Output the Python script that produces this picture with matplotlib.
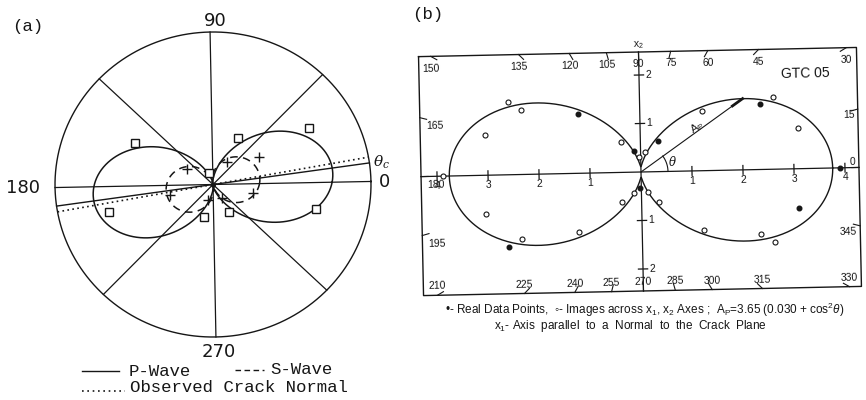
import numpy as np
import matplotlib
matplotlib.use("Agg")
from matplotlib import pyplot as plt
from matplotlib.lines import Line2D
from matplotlib.transforms import Affine2D

plt.rcParams['mathtext.fontset'] = 'custom'
plt.rcParams['mathtext.rm'] = 'Liberation Sans'
plt.rcParams['mathtext.it'] = 'Liberation Sans:italic'

INK = '#161616'
W, H = 866, 400

# ---------------- panel (a): polar sketch, radius of outer circle = 1
spoke_deg = [0, 45, 90, 135]
p_axis_deg = 7.0          # fitted P-wave axis (solid)
crack_normal_deg = 9.2    # observed crack normal (dotted)
p_lobe_deg = 6.0
p_lobe_size = 0.74
p_lobe_c = 0.03
s_lobe_deg = 11.0
s_lobe_size = 0.30

p_sq_x = [-0.489, -0.023, 0.164, 0.615, -0.661, -0.061, 0.098, 0.649]
p_sq_y = [0.285, 0.079, 0.300, 0.356, -0.165, -0.210, -0.180, -0.176]
s_plus_x = [-0.163, 0.092, 0.294, -0.273, 0.252, -0.034, 0.055]
s_plus_y = [0.108, 0.149, 0.172, -0.061, -0.064, -0.104, -0.087]

# ---------------- panel (b): GTC 05, A_P = 3.65 (0.030 + cos^2 theta)
amp_p = 3.65
c_p = 0.030
real_x = [-1.22, -0.12, 0.35, 2.36, 3.90, 3.08, -2.62, -0.02]
real_y = [1.23, 0.43, 0.64, 1.35, 0.00, -0.82, -1.49, -0.32]
image_x = [-2.58, -2.33, -3.05, -0.38, -0.03, 0.09, 1.23, 2.62, 3.09, -3.88,
           -3.06, -0.38, -0.15, 0.12, 0.35, -2.36, -1.24, 1.22, 2.32, 2.60]
image_y = [1.51, 1.34, 0.83, 0.63, 0.30, 0.42, 1.23, 1.49, 0.83, 0.01,
           -0.80, -0.61, -0.43, -0.42, -0.63, -1.34, -1.21, -1.23, -1.33, -1.50]
x1_ticks = [-4, -3, -2, -1, 1, 2, 3, 4]
x2_ticks = [-2, -1, 1, 2]
protractor_deg = list(range(0, 360, 15))
ap_deg = 36


def px(x, y):
    return x / W, 1 - y / H


def tilted(ax, deg):
    ox, oy = ax.transData.transform((0, 0))
    return ax.transData + Affine2D().rotate_deg_around(ox, oy, deg)


fig = plt.figure(figsize=(W / 100, H / 100), dpi=100)
fig.patch.set_facecolor('white')

# ================= (a)
ax_a = fig.add_axes([55 / W, (H - 337) / H, 316 / W, 305 / H])
ax_a.set_xlim(-1, 1)
ax_a.set_ylim(-1, 1)
ax_a.axis('off')
tr_a = tilted(ax_a, 1.1)

t = np.linspace(0, 2 * np.pi, 721)
kw = dict(color=INK, transform=tr_a, clip_on=False)
ax_a.plot(np.cos(t), np.sin(t), lw=1.0, **kw)
for d in spoke_deg:
    a = np.radians(d)
    ax_a.plot([-np.cos(a), np.cos(a)], [-np.sin(a), np.sin(a)], lw=0.9, **kw)

a = np.radians(p_axis_deg)
ax_a.plot([-np.cos(a), np.cos(a)], [-np.sin(a), np.sin(a)], lw=1.0, **kw)
a = np.radians(crack_normal_deg)
ax_a.plot([-np.cos(a), np.cos(a)], [-np.sin(a), np.sin(a)], lw=1.2,
          ls=(0, (1, 2)), **kw)

r = p_lobe_size * (p_lobe_c + np.cos(t - np.radians(p_lobe_deg)) ** 2)
ax_a.plot(r * np.cos(t), r * np.sin(t), lw=1.1, **kw)
r = s_lobe_size * np.abs(np.cos(t - np.radians(s_lobe_deg)))
ax_a.plot(r * np.cos(t), r * np.sin(t), lw=1.1, ls=(0, (5, 3.5)), **kw)

ax_a.plot(p_sq_x, p_sq_y, 's', ms=5.5, mfc='white', mec=INK, mew=1.0,
          transform=tr_a, clip_on=False, zorder=4)
ax_a.plot(s_plus_x, s_plus_y, '+', ms=6.5, mec=INK, mew=1.0,
          transform=tr_a, clip_on=False, zorder=4)
ax_a.plot([0], [0], 'o', ms=2.5, color=INK, transform=tr_a, clip_on=False)

num = dict(color=INK, fontsize=13, family='DejaVu Sans', ha='center', va='center')
fig.text(*px(215, 21), '90', **num)
fig.text(*px(219, 352), '270', **num)
fig.text(*px(23, 188), '180', **num)
fig.text(*px(385, 182), '0', **num)
fig.text(*px(381, 162), r'$\theta_c$', color=INK, fontsize=11,
         math_fontfamily='dejavuserif', ha='center', va='center')

mono = dict(color=INK, fontsize=12.5, family='Liberation Mono', va='center')
fig.text(*px(12, 27), '(a)', **mono)
fig.text(*px(412, 14), '(b)', **mono)

fig.add_artist(Line2D([82 / W, 119 / W], [1 - 371 / H] * 2, color=INK, lw=1.0))
fig.text(*px(129, 371), 'P-Wave', **mono)
fig.add_artist(Line2D([235 / W, 264 / W], [1 - 370 / H] * 2, color=INK, lw=1.0,
                      ls=(0, (4, 2.5))))
fig.text(*px(270, 370), 'S-Wave', **mono)
fig.add_artist(Line2D([82 / W, 125 / W], [1 - 391 / H] * 2, color=INK, lw=1.2,
                      ls=(0, (1, 2.2))))
fig.text(*px(130, 387), 'Observed Crack Normal', **mono)

# ================= (b)
sx, sy = 51.0, 48.5          # pixels per unit along x1, x2
L, R, T, B = -220.0, 218.0, 120.0, -119.0
ax_b = fig.add_axes([(641 + L) / W, (H - 172 + B) / H, (R - L) / W, (T - B) / H])
ax_b.set_xlim(L / sx, R / sx)
ax_b.set_ylim(B / sy, T / sy)
ax_b.axis('off')
tr_b = tilted(ax_b, 1.2)
kb = dict(color=INK, transform=tr_b, clip_on=False)

xl, xr, yb, yt = L / sx, R / sx, B / sy, T / sy
ax_b.plot([xl, xr, xr, xl, xl], [yt, yt, yb, yb, yt], lw=1.0, **kb)
ax_b.plot([xl, xr], [0, 0], lw=0.9, **kb)
ax_b.plot([0, 0], [yb, yt], lw=0.9, **kb)

small = dict(color=INK, fontsize=7.5, family='Liberation Sans',
             transform=tr_b, rotation=1.2, clip_on=False)
for v in x1_ticks:
    ax_b.plot([v, v], [-0.09, 0.09], lw=0.9, **kb)
    ax_b.text(v, -0.2, str(abs(v)), ha='center', va='center', **small)
for v in x2_ticks:
    ax_b.plot([-0.09, 0.09], [v, v], lw=0.9, **kb)
    ax_b.text(0.12, v, str(abs(v)), ha='left', va='center', **small)
ax_b.text(0, (T + 7) / sy, r'$\mathrm{x}_2$', ha='center', va='center', **small)

# protractor marks on the frame
for d in protractor_deg:
    dx, dy = np.cos(np.radians(d)), np.sin(np.radians(d))
    cand = []
    if dx > 1e-9:
        cand.append((R / dx, 'r'))
    if dx < -1e-9:
        cand.append((L / dx, 'l'))
    if dy > 1e-9:
        cand.append((T / dy, 't'))
    if dy < -1e-9:
        cand.append((B / dy, 'b'))
    tt, edge = min(cand)
    hx, hy = tt * dx, tt * dy
    ax_b.plot([hx / sx, (tt - 7) * dx / sx], [hy / sy, (tt - 7) * dy / sy],
              lw=0.8, **kb)
    if edge == 't':
        lx, ly, ha = hx, T - 12, 'center'
    elif edge == 'b':
        lx, ly, ha = hx, B + 9, 'center'
    elif edge == 'r':
        lx, ly, ha = R - 3, hy + (6 if d == 0 else -6), 'right'
    else:
        lx, ly, ha = L + 6, hy - 8, 'left'
    ax_b.text(lx / sx, ly / sy, str(d), ha=ha, va='center', **small)

r = amp_p * (c_p + np.cos(t) ** 2)
ax_b.plot(r * np.cos(t), r * np.sin(t), lw=1.0, **kb)
ax_b.plot(real_x, real_y, 'o', ms=3.3, color=INK, transform=tr_b, clip_on=False)
ax_b.plot(image_x, image_y, 'o', ms=3.6, mfc='white', mec=INK, mew=0.8,
          transform=tr_b, clip_on=False)

a = np.radians(ap_deg)
ra = amp_p * (c_p + np.cos(a) ** 2)
ax_b.plot([0, ra * np.cos(a)], [0, ra * np.sin(a)], lw=0.8, **kb)
ax_b.plot([(ra - 0.25) * np.cos(a), ra * np.cos(a)],
          [(ra - 0.25) * np.sin(a), ra * np.sin(a)], lw=2.0, **kb)
arc = np.radians(np.linspace(0, 35, 40))
ax_b.plot(27 * np.cos(arc) / sx, 27 * np.sin(arc) / sy, lw=0.8, **kb)
ax_b.text(0.62, 0.20, r'$\theta$', ha='center', va='center',
          color=INK, fontsize=8.5, transform=tr_b, math_fontfamily='dejavuserif')
ax_b.text(1.12, 0.90, r'A$_\mathrm{P}$', ha='center', va='center',
          color=INK, fontsize=8, family='Liberation Sans', rotation=33,
          transform=tr_b)
ax_b.text(3.26, 1.97, 'GTC 05', ha='center', va='center', color=INK,
          fontsize=10, family='Liberation Sans', transform=tr_b, rotation=1.2)

cap = dict(color=INK, family=['Liberation Sans', 'DejaVu Sans'],
           ha='center', va='center')
fig.text(*px(645, 310),
         '\u2022- Real Data Points,  \u25e6- Images across $\\mathrm{x}_1$, '
         '$\\mathrm{x}_2$ Axes ;  A$_\\mathrm{P}$=3.65 (0.030 + cos$^2\\theta$)',
         fontsize=8.5, **cap)
fig.text(*px(630, 326), '$\\mathrm{x}_1$- Axis  parallel  to  a  Normal  to  the  Crack  Plane',
         fontsize=8.5, **cap)

fig.savefig('out.png', dpi=100, facecolor='white')
